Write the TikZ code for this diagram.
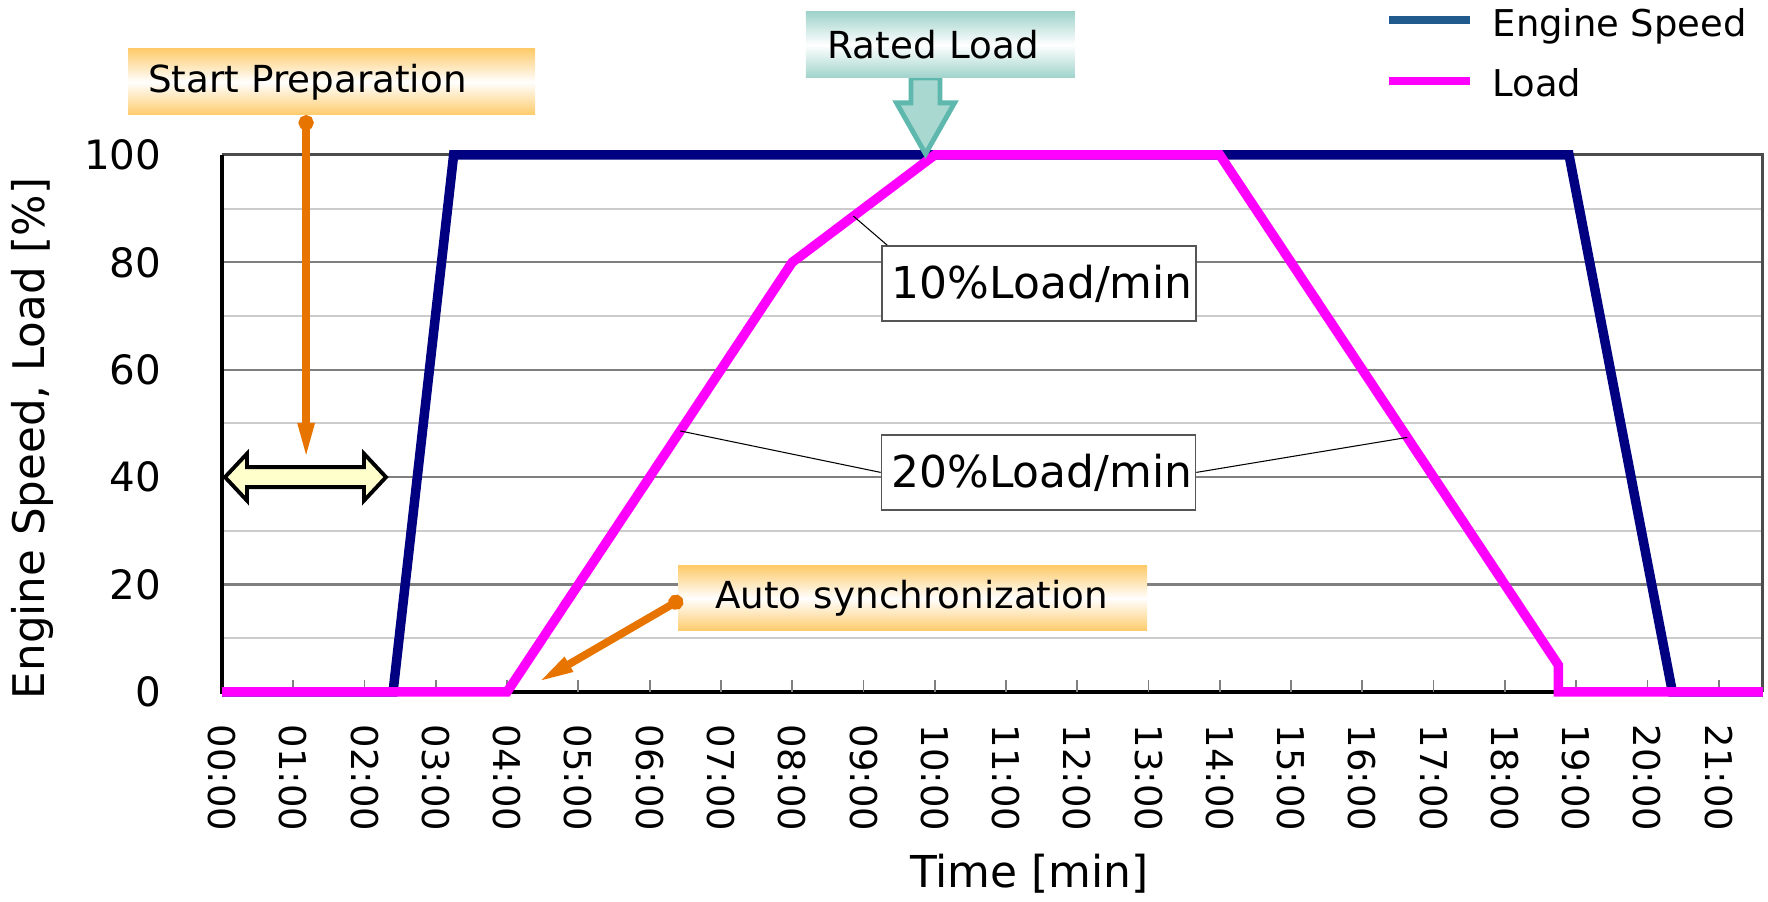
\documentclass[tikz,border=0pt]{standalone}
\usepackage{fontspec}
\setmainfont{DejaVu Sans}
\usepackage{tikz}
\usetikzlibrary{arrows.meta}
\tikzstyle{curve} = [line width=2.7pt, line join=miter]
\tikzstyle{ticklabel} = [anchor=east, inner sep=0, font=\fontsize{11.5}{13}\selectfont]
\tikzstyle{timelabel} = [anchor=west, rotate=-90, inner sep=0, font=\fontsize{10.5}{12}\selectfont]
\tikzstyle{goldbox} = [rectangle, top color=bgold, bottom color=bgold, middle color=white, minimum height=0.66cm, inner ysep=0, align=left, font=\fontsize{10.6}{12}\selectfont]
\tikzstyle{tealbox} = [goldbox, top color=bteal, bottom color=bteal, middle color=white]
\tikzstyle{ratebox} = [rectangle, draw=bframe, line width=0.45pt, fill=white, minimum height=0.75cm, inner xsep=0.1cm, text width=2.94cm, align=left, font=\fontsize{12.5}{14}\selectfont]
\tikzstyle{leader} = [draw, line width=0.3pt]
\tikzstyle{pointer} = [draw, borange, line width=2.2pt, {Circle[length=0.15cm]}-{Triangle[length=0.37cm, width=0.15cm]}]
\definecolor{bnavy}{HTML}{000080}
\definecolor{bmagenta}{HTML}{FF00FF}
\definecolor{blegend}{HTML}{215A8C}
\definecolor{borange}{HTML}{E87400}
\definecolor{bgold}{HTML}{FDCB6B}
\definecolor{bteal}{HTML}{9FD3CB}
\definecolor{btealfill}{HTML}{A9D8D1}
\definecolor{btealline}{HTML}{5EB8AD}
\definecolor{byellow}{HTML}{FFFFCC}
\definecolor{bmajor}{HTML}{7F7F7F}
\definecolor{bminor}{HTML}{CCCCCC}
\definecolor{bframe}{HTML}{555555}

\begin{document}
\begin{tikzpicture}[x=0.7127cm, y=0.0537cm]
\useasboundingbox (-3.115,-39.1) rectangle (21.692,128.86);

%% grid and frame
\foreach \g in {10,30,50,70,90}
  \draw[bminor, line width=0.6pt] (0,\g) -- (21.62,\g);
\foreach \g in {20,40,60,80}
  \draw[bmajor, line width=0.6pt] (0,\g) -- (21.62,\g);
\draw[black!70, line width=0.85pt] (0,100) -- (21.62,100) -- (21.62,0);
\draw[black, line width=1pt] (0,100) -- (0,0) -- (21.62,0);
\foreach \t in {1,...,21}
  \draw[bmajor, line width=0.5pt] (\t,0) -- (\t,2.3);

%% axis labels
\foreach \v in {0,20,...,100}
  \node[ticklabel] at (-0.842,\v) {\v};
\foreach \t in {0,...,21}
  \node[timelabel] at (\t,-5.96) {\ifnum\t<10 0\fi\t:00};
\node[rotate=90, font=\fontsize{12.4}{14}\selectfont] (ylabel) at (-2.66,47.2) {Engine Speed, Load [\%]};
\node[font=\fontsize{12.5}{14}\selectfont] (xlabel) at (11.33,-33.8) {Time [min]};

%% curves
\draw[curve, bnavy] (0,0) -- (2.4,0) -- (3.25,100) -- (18.9,100) -- (20.35,0) -- (21.62,0);
\draw[curve, bmagenta] (0,0) -- (4,0) -- (8,80) -- (10,100) -- (14,100) -- (18.75,5) -- (18.75,0) -- (21.62,0);

%% legend
\draw[blegend, line width=2.3pt] (16.375,125.1) -- (17.51,125.1);
\draw[bmagenta, line width=2.3pt] (16.375,113.8) -- (17.51,113.8);
\node[anchor=base west, inner sep=0, font=\fontsize{10.5}{12}\selectfont] (lspeed) at (17.82,122.0) {Engine Speed};
\node[anchor=base west, inner sep=0, font=\fontsize{10.5}{12}\selectfont] (lload) at (17.82,110.9) {Load};

%% ramp rates
\coordinate (p10) at (8.86,88.6);
\coordinate (p20a) at (6.43,48.6);
\coordinate (p20b) at (16.63,47.4);
\node[ratebox] at (11.463,76.07) (rate10) {10\%Load/min};
\node[ratebox] at (11.456,40.88) (rate20) {20\%Load/min};
\path[leader] (p10) -- ([xshift=0.06cm]rate10.north west);
\path[leader] (p20a) -- (rate20.west);
\path[leader] (rate20.east) -- (p20b);

%% rated load
\coordinate (ratedtip) at (9.871,100.2);
\draw[btealline, fill=btealfill, line width=1.4pt, line join=miter] (ratedtip) -- ++(-0.407,9.5) -- ++(0.2035,0) -- ++(0,4.65) -- ++(0.407,0) -- ++(0,-4.65) -- ++(0.2035,0) -- cycle;
\node[tealbox, text width=2.25cm, inner xsep=0.22cm] at (10.08,120.5) (rated) {Rated Load};

%% start preparation
\node[goldbox, text width=3.67cm, inner xsep=0.2cm] at (1.537,113.6) (prep) {Start Preparation};
\coordinate (prepdot) at (1.18,107.4);
\coordinate (preptip) at (1.18,43.2);
\path[pointer] (prepdot) -- (preptip);
\coordinate (span) at (0.042,40);
\draw[black, fill=byellow, line width=1.1pt, line join=miter] (span) -- ++(0.309,4.376) -- ++(0,-2.514) -- ++(1.641,0) -- ++(0,2.514) -- ++(0.309,-4.376) -- ++(-0.309,-4.376) -- ++(0,2.514) -- ++(-1.641,0) -- ++(0,-2.514) -- cycle;

%% auto synchronization
\node[goldbox, text width=3.95cm, inner xsep=0.37cm, minimum height=0.65cm] at (9.689,17.41) (sync) {Auto synchronization};
\coordinate (syncdot) at ([xshift=0.05cm]sync.west);
\coordinate (synctip) at (4.42,1.7);
\path[pointer] (syncdot) -- (synctip);
\end{tikzpicture}
\end{document}
